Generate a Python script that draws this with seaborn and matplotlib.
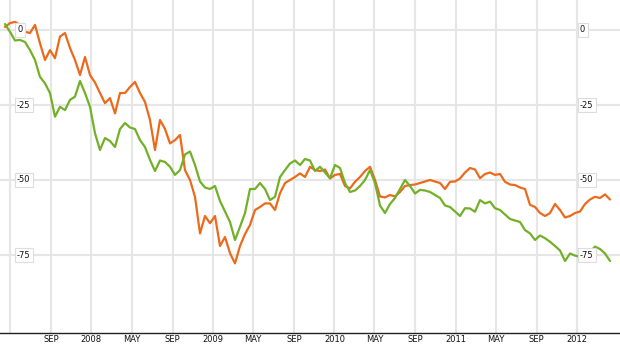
import matplotlib
matplotlib.use("Agg")
import matplotlib.pyplot as plt
import seaborn as sns
import pandas as pd
import numpy as np

# ---- data ----
series_names = ["Orange", "Green"]
orange_vals = [
    1.0, 2.3, 2.7, 1.7, -0.6, -1.0, 1.7, -4.4, -10.0, -6.7, -9.4, -2.2, -1.0, -6.0, -10.0, -15.0,
    -9.0, -15.0, -17.5, -21.0, -24.4, -22.7, -27.8, -21.0, -21.0, -19.0, -17.3, -21.0, -24.0, -30.0,
    -40.0, -30.0, -33.0, -37.8, -36.7, -35.0, -46.7, -50.0, -55.6, -67.8, -62.0, -64.4, -62.0, -72.0,
    -69.0, -74.4, -77.8, -72.0, -68.0, -65.0, -60.0, -59.0, -57.8, -57.8, -60.0, -54.4, -51.0, -50.0,
    -49.0, -47.8, -49.0, -45.6, -46.7, -47.0, -46.5, -49.5, -48.3, -48.0, -52.0, -52.8, -50.6, -49.0,
    -47.0, -45.6, -50.0, -55.5, -55.8, -55.0, -55.5, -54.0, -52.0, -51.7, -51.5, -51.0, -50.5, -50.0,
    -50.5, -51.0, -53.0, -50.6, -50.5, -49.5, -47.5, -46.0, -46.5, -49.4, -48.0, -47.5, -48.3, -48.0,
    -50.6, -51.5, -51.7, -52.5, -53.0, -58.3, -59.0, -61.0, -62.0, -61.0, -58.0, -60.0, -62.5, -62.0,
    -61.0, -60.5, -58.0, -56.5, -55.6, -56.0, -54.8, -56.5,
]
green_vals = [
    2.0, -0.6, -3.5, -3.3, -4.0, -6.7, -10.0, -15.6, -17.8, -21.0, -28.9, -25.6, -26.7, -23.3, -22.2, -17.0,
    -21.0, -25.6, -34.4, -40.0, -36.0, -37.0, -39.0, -33.0, -31.0, -32.5, -33.0, -36.7, -39.0, -43.3,
    -47.0, -43.5, -44.0, -45.6, -48.3, -46.7, -41.5, -40.5, -45.0, -50.5, -52.5, -53.0, -52.0, -57.0,
    -60.5, -64.0, -70.0, -65.6, -61.0, -53.0, -53.0, -51.0, -53.0, -56.7, -55.6, -49.0, -46.7, -44.5,
    -43.5, -45.0, -43.0, -43.5, -47.0, -45.6, -47.5, -49.4, -45.0, -46.0, -51.0, -54.0, -53.5, -52.0,
    -50.0, -46.7, -51.0, -58.5, -61.0, -58.0, -56.0, -53.0, -50.0, -52.0, -54.5, -53.3, -53.5, -54.0,
    -55.0, -56.0, -58.5, -59.0, -60.5, -62.0, -59.4, -59.5, -60.6, -56.7, -57.8, -57.2, -59.4, -60.0,
    -61.5, -63.0, -63.5, -64.0, -66.7, -67.8, -70.0, -68.5, -69.4, -70.6, -72.0, -73.5, -77.0, -74.5,
    -75.2, -75.6, -75.5, -74.0, -72.2, -73.0, -74.5, -77.0,
]
# sampling dates of the readings (roughly every 15 days, mid-Apr 2007 to Apr 2012)
dates = pd.date_range("2007-04-16", "2012-04-09", periods=len(orange_vals))

tick_dates = ["2007-09-01", "2008-01-01", "2008-05-01", "2008-09-01", "2009-01-01",
              "2009-05-01", "2009-09-01", "2010-01-01", "2010-05-01", "2010-09-01",
              "2011-01-01", "2011-05-01", "2011-09-01", "2012-01-01"]
tick_labels = ["SEP", "2008", "MAY", "SEP", "2009", "MAY", "SEP", "2010", "MAY", "SEP",
               "2011", "MAY", "SEP", "2012"]
grid_dates = ["2007-05-01"] + tick_dates
y_ticks = [0, -25, -50, -75]
colors = {"Orange": "#eb6a1c", "Green": "#72b027"}

df = pd.DataFrame({
    "date": list(dates) * 2,
    "value": orange_vals + green_vals,
    "series": ["Orange"] * len(orange_vals) + ["Green"] * len(green_vals),
})

# ---- plot ----
sns.set_theme(style="white")
plt.rcParams["font.family"] = ["DejaVu Sans"]

fig = plt.figure(figsize=(6.2, 3.46), dpi=100)
ax = fig.add_axes([0, 13 / 346, 1, 333 / 346])

for xd in pd.to_datetime(grid_dates):
    ax.axvline(xd, color="#e6e6e6", lw=1.5, zorder=0)
for yv in y_ticks:
    ax.axhline(yv, color="#e6e6e6", lw=1.5, zorder=0)

sns.lineplot(data=df, x="date", y="value", hue="series", hue_order=series_names,
             palette=colors, linewidth=1.6, legend=False, ax=ax, zorder=3)

ax.set_xlim(pd.Timestamp("2007-04-01"), pd.Timestamp("2012-05-09"))
ax.set_ylim(-101, 10)
ax.set_xticks(pd.to_datetime(tick_dates))
ax.set_xticklabels(tick_labels)
ax.tick_params(axis="x", length=0, pad=1.5, labelsize=6, colors="#111111")
ax.set_yticks([])
ax.set_xlabel("")
ax.set_ylabel("")
for s in ["top", "left", "right"]:
    ax.spines[s].set_visible(False)
ax.spines["bottom"].set_color("#222222")
ax.spines["bottom"].set_linewidth(1.0)

for yv in y_ticks:
    for xf in (17 / 620, 580 / 620):
        ax.text(xf, yv, str(yv), transform=ax.get_yaxis_transform(),
                ha="left", va="center", fontsize=6, color="#111111", zorder=5,
                bbox=dict(boxstyle="square,pad=0.3", fc="white", ec="#dddddd", lw=0.8))

fig.savefig("out.png", dpi=100)
